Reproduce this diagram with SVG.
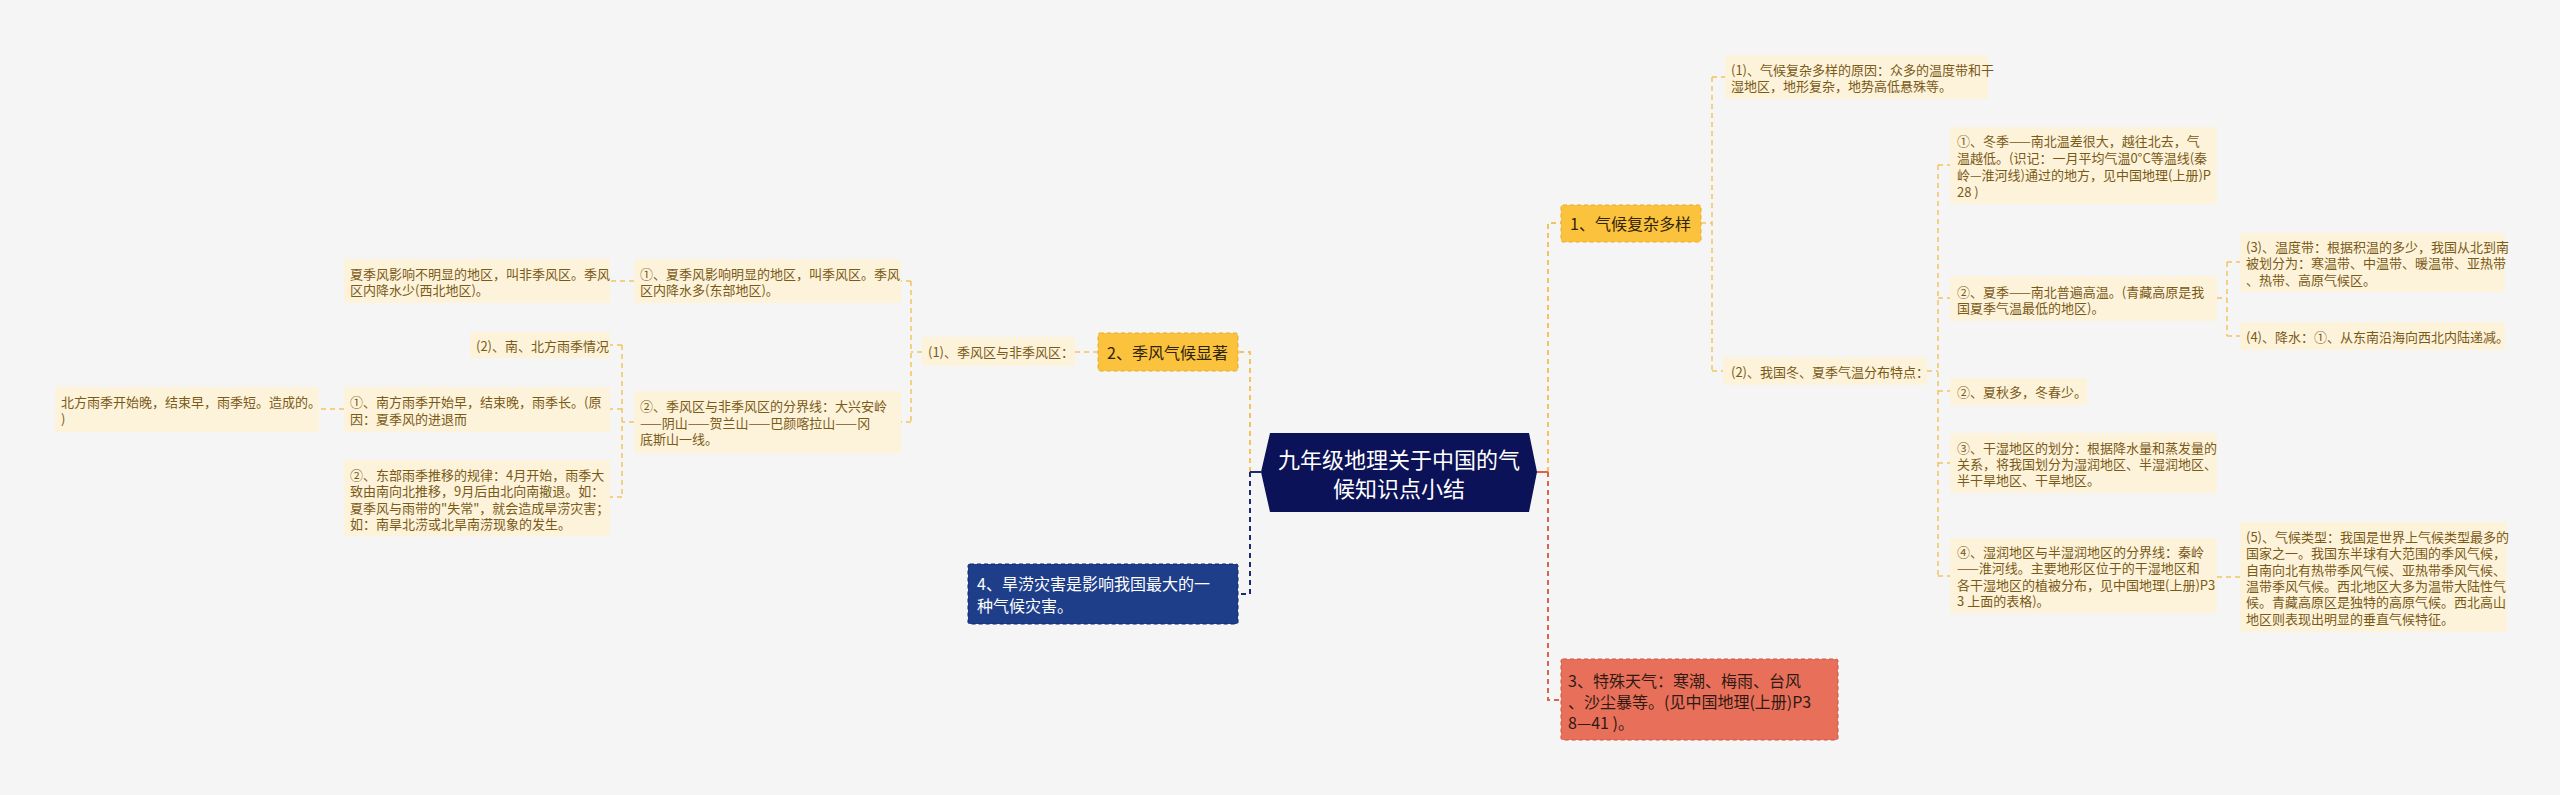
<svg xmlns="http://www.w3.org/2000/svg" width="2560" height="795" viewBox="0 0 2560 795">
<style>
text{font-family:"Noto Sans CJK SC","Noto Sans",sans-serif;dominant-baseline:central}
.leaf rect{fill:#fdf3da}
.leaf text{font-size:13px;fill:#7a5a17}
.l1 rect{fill:#fbc23e;stroke:#eaa92a;stroke-width:1;stroke-dasharray:4 3}
.l1 text{font-size:16px;fill:#2e2408}
.cy{fill:none;stroke:#f2c35e;stroke-width:1.5;stroke-dasharray:5 4}
.cym{fill:none;stroke:#f2c35e;stroke-width:2;stroke-dasharray:5 4}
.cn{fill:none;stroke:#1d2a6e;stroke-width:2;stroke-dasharray:5 4}
.cr{fill:none;stroke:#d9634c;stroke-width:2;stroke-dasharray:5 4}
</style>
<rect width="2560" height="795" fill="#f5f5f5"/>
<g id="connectors">
<path class="cym" d="M1548 472V223H1561"/>
<path class="cr" d="M1548 472V700H1561"/>
<path d="M1537 472H1548" stroke="#d9634c" stroke-width="2"/>
<path class="cy" d="M1701 223H1712M1712 77V371M1712 77H1725M1712 371H1723"/>
<path class="cy" d="M1927 371H1938M1938 165V576M1938 165H1950M1938 298H1950M1938 391H1950M1938 463H1950M1938 576H1950"/>
<path class="cy" d="M2217 298H2227M2227 262V336M2227 262H2240M2227 336H2240"/>
<path class="cy" d="M2217 577H2240"/>
<path class="cym" d="M1250 472V352H1238"/>
<path class="cn" d="M1250 472V594H1238"/>
<path d="M1250 472H1261" stroke="#1d2a6e" stroke-width="2"/>
<path class="cy" d="M1098 352H1075M922 352H911M911 281V422M911 281H901M911 422H901"/>
<path class="cy" d="M634 281H610"/>
<path class="cy" d="M634 422H622M622 345V497M622 345H610M622 409H610M622 497H610"/>
<path class="cy" d="M344 409H319"/>
</g>
<g id="center">
<polygon points="1270,433 1529,433 1537,472 1529,512 1270,512 1261,472" fill="#0b1257"/>
<text x="1399" y="458" font-size="22" fill="#ffffff" text-anchor="middle">九年级地理关于中国的气</text>
<text x="1399" y="487" font-size="22" fill="#ffffff" text-anchor="middle">候知识点小结</text>
</g>
<g id="n1" class="l1">
<rect x="1561" y="205" width="140" height="37" rx="2"/>
<text x="1570" y="223">1、气候复杂多样</text>
</g>
<g id="n2" class="l1">
<rect x="1098" y="333" width="140" height="38" rx="2"/>
<text x="1107" y="352">2、季风气候显著</text>
</g>
<g id="n3">
<rect x="1561" y="659" width="277" height="81" rx="2" fill="#e8705a" stroke="#c9553f" stroke-width="1" stroke-dasharray="4 3"/>
<text x="1568" y="680" font-size="16" fill="#2f1a12">3、特殊天气：寒潮、梅雨、台风</text>
<text x="1568" y="701" font-size="16" fill="#2f1a12">、沙尘暴等。(见中国地理(上册)P3</text>
<text x="1568" y="722" font-size="16" fill="#2f1a12">8—41 )。</text>
</g>
<g id="n4">
<rect x="968" y="564" width="270" height="60" rx="2" fill="#1f3e8a" stroke="#10256a" stroke-width="1" stroke-dasharray="4 3"/>
<text x="977" y="583" font-size="16" fill="#ffffff">4、旱涝灾害是影响我国最大的一</text>
<text x="977" y="605" font-size="16" fill="#ffffff">种气候灾害。</text>
</g>
<g id="r1" class="leaf">
<rect x="1725" y="55" width="263" height="44" rx="2"/>
<text x="1731" y="69">(1)、气候复杂多样的原因：众多的温度带和干</text>
<text x="1731" y="85">湿地区，地形复杂，地势高低悬殊等。</text>
</g>
<g id="r2" class="leaf">
<rect x="1723" y="357" width="204" height="28" rx="2"/>
<text x="1731" y="371">(2)、我国冬、夏季气温分布特点：</text>
</g>
<g id="r2a" class="leaf">
<rect x="1950" y="127" width="267" height="77" rx="2"/>
<text x="1957" y="140">①、冬季——南北温差很大，越往北去，气</text>
<text x="1957" y="157">温越低。(识记：一月平均气温0°C等温线(秦</text>
<text x="1957" y="174">岭—淮河线)通过的地方，见中国地理(上册)P</text>
<text x="1957" y="191">28 )</text>
</g>
<g id="r2b" class="leaf">
<rect x="1950" y="276" width="267" height="45" rx="2"/>
<text x="1957" y="291">②、夏季——南北普遍高温。(青藏高原是我</text>
<text x="1957" y="307">国夏季气温最低的地区)。</text>
</g>
<g id="r2b1" class="leaf">
<rect x="2240" y="233" width="265" height="59" rx="2"/>
<text x="2246" y="246">(3)、温度带：根据积温的多少，我国从北到南</text>
<text x="2246" y="262.5">被划分为：寒温带、中温带、暖温带、亚热带</text>
<text x="2246" y="279">、热带、高原气候区。</text>
</g>
<g id="r2b2" class="leaf">
<rect x="2240" y="322" width="265" height="28" rx="2"/>
<text x="2246" y="336">(4)、降水：①、从东南沿海向西北内陆递减。</text>
</g>
<g id="r2c" class="leaf">
<rect x="1950" y="378" width="137" height="27" rx="2"/>
<text x="1957" y="391.5">②、夏秋多，冬春少。</text>
</g>
<g id="r2d" class="leaf">
<rect x="1950" y="433" width="267" height="60" rx="2"/>
<text x="1957" y="447.5">③、干湿地区的划分：根据降水量和蒸发量的</text>
<text x="1957" y="463">关系，将我国划分为湿润地区、半湿润地区、</text>
<text x="1957" y="479">半干旱地区、干旱地区。</text>
</g>
<g id="r2e" class="leaf">
<rect x="1950" y="538" width="267" height="75" rx="2"/>
<text x="1957" y="551">④、湿润地区与半湿润地区的分界线：秦岭</text>
<text x="1957" y="567.5">——淮河线。主要地形区位于的干湿地区和</text>
<text x="1957" y="584">各干湿地区的植被分布，见中国地理(上册)P3</text>
<text x="1957" y="600.5">3 上面的表格)。</text>
</g>
<g id="r2e1" class="leaf">
<rect x="2240" y="522" width="267" height="110" rx="2"/>
<text x="2246" y="536.5">(5)、气候类型：我国是世界上气候类型最多的</text>
<text x="2246" y="552.8">国家之一。我国东半球有大范围的季风气候，</text>
<text x="2246" y="569.1">自南向北有热带季风气候、亚热带季风气候、</text>
<text x="2246" y="585.4">温带季风气候。西北地区大多为温带大陆性气</text>
<text x="2246" y="601.7">候。青藏高原区是独特的高原气候。西北高山</text>
<text x="2246" y="618">地区则表现出明显的垂直气候特征。</text>
</g>
<g id="l1" class="leaf">
<rect x="922" y="337" width="153" height="29" rx="2"/>
<text x="928" y="351.5">(1)、季风区与非季风区：</text>
</g>
<g id="l1a" class="leaf">
<rect x="634" y="259" width="267" height="44" rx="2"/>
<text x="640" y="273">①、夏季风影响明显的地区，叫季风区。季风</text>
<text x="640" y="289">区内降水多(东部地区)。</text>
</g>
<g id="l1a1" class="leaf">
<rect x="344" y="259" width="266" height="44" rx="2"/>
<text x="350" y="273">夏季风影响不明显的地区，叫非季风区。季风</text>
<text x="350" y="289">区内降水少(西北地区)。</text>
</g>
<g id="l1b" class="leaf">
<rect x="634" y="391" width="267" height="62" rx="2"/>
<text x="640" y="405.5">②、季风区与非季风区的分界线：大兴安岭</text>
<text x="640" y="422">——阴山——贺兰山——巴颜喀拉山——冈</text>
<text x="640" y="438.5">底斯山一线。</text>
</g>
<g id="l1b1" class="leaf">
<rect x="470" y="332" width="140" height="26" rx="2"/>
<text x="476" y="345">(2)、南、北方雨季情况</text>
</g>
<g id="l1b2" class="leaf">
<rect x="344" y="387" width="266" height="45" rx="2"/>
<text x="350" y="401.5">①、南方雨季开始早，结束晚，雨季长。(原</text>
<text x="350" y="418">因：夏季风的进退而</text>
</g>
<g id="l1b2a" class="leaf">
<rect x="55" y="387" width="264" height="45" rx="2"/>
<text x="61" y="401.5">北方雨季开始晚，结束早，雨季短。造成的。</text>
<text x="61" y="418">)</text>
</g>
<g id="l1b3" class="leaf">
<rect x="344" y="460" width="266" height="76" rx="2"/>
<text x="350" y="474">②、东部雨季推移的规律：4月开始，雨季大</text>
<text x="350" y="490.5">致由南向北推移，9月后由北向南撤退。如：</text>
<text x="350" y="507">夏季风与雨带的"失常"，就会造成旱涝灾害；</text>
<text x="350" y="523.5">如：南旱北涝或北旱南涝现象的发生。</text>
</g>
</svg>
